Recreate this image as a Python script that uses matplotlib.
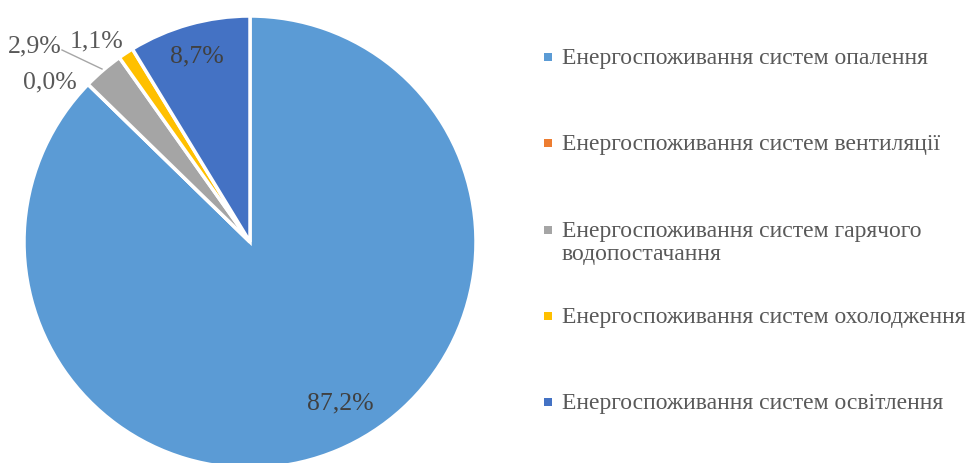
import matplotlib.pyplot as plt
from matplotlib.patches import Rectangle

categories = ["Енергоспоживання систем опалення",
              "Енергоспоживання систем вентиляції",
              "Енергоспоживання систем гарячого\nводопостачання",
              "Енергоспоживання систем охолодження",
              "Енергоспоживання систем освітлення"]
shares = [87.2, 0.0, 2.9, 1.1, 8.7]
colors = ["#5B9BD5", "#ED7D31", "#A5A5A5", "#FFC000", "#4472C4"]

W, H = 973, 463
plt.rcParams['font.family'] = ['Liberation Serif', 'DejaVu Serif']

fig = plt.figure(figsize=(W / 100, H / 100), dpi=100)
ax = fig.add_axes([0, 0, 1, 1])
ax.set_aspect('equal')

cx, cy, r = 250, H - 242, 226
wedges, _ = ax.pie(shares, colors=colors, startangle=90, counterclock=False,
                   center=(cx, cy), radius=r, frame=True,
                   wedgeprops=dict(edgecolor='white', linewidth=2.5))
ax.set_xlim(0, W)
ax.set_ylim(0, H)
ax.axis('off')


def fmt(v):
    return f"{v:.1f}%".replace('.', ',')


# percentage labels (pixel positions of the reference)
label_pos = [(340, 403), (50, 82), (35, 46), (97, 41), (197, 56)]
label_col = ["#404040", "#595959", "#595959", "#595959", "#404040"]
for v, (lx, ly), c in zip(shares, label_pos, label_col):
    ax.text(lx, H - ly, fmt(v), ha='center', va='center', fontsize=18.5,
            color=c)

# leader line for the grey slice
ax.plot([62, 102], [H - 50, H - 69], color="#A6A6A6", lw=1)

# legend
leg_y = [57, 143, 230, 316, 402]
for lab, c, y in zip(categories, colors, leg_y):
    ax.add_patch(Rectangle((544, H - y - 4), 8, 8, color=c, lw=0))
    ax.text(562, H - y + 9, lab, ha='left', va='top', fontsize=17,
            color="#595959", linespacing=1.1)

fig.savefig("out.png", dpi=100)
